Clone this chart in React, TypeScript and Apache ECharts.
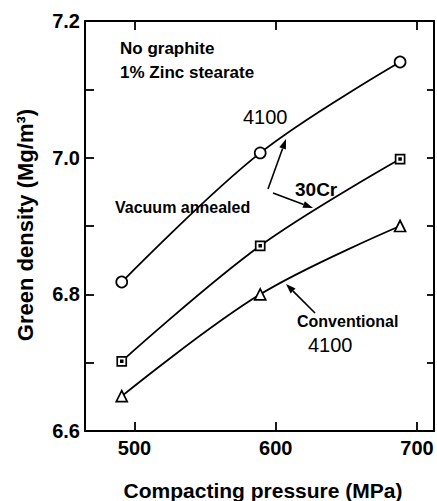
import React, { useEffect, useRef } from "react";
import * as echarts from "echarts";

const pressure = [491, 589, 688];
const vacuum4100 = [6.818, 7.007, 7.14];
const vacuum30Cr = [6.702, 6.871, 6.998];
const conventional4100 = [6.651, 6.8, 6.9];
const xTickValues = [500, 600, 700];
const yMin = 6.6;
const yMax = 7.2;
const xTitle = "Compacting pressure (MPa)";
const yTitle = "Green density (Mg/m³)";

const FONT = "'Liberation Sans', Arial, sans-serif";

function arrow(x1: number, y1: number, x2: number, y2: number) {
  const ang = Math.atan2(y2 - y1, x2 - x1);
  const L = 10;
  const W = 3.5;
  const bx = x2 - L * Math.cos(ang);
  const by = y2 - L * Math.sin(ang);
  const px = -Math.sin(ang) * W;
  const py = Math.cos(ang) * W;
  return [
    {
      type: "line",
      shape: { x1, y1, x2: bx, y2: by },
      style: { stroke: "#000", lineWidth: 1.6 },
    },
    {
      type: "polygon",
      shape: {
        points: [
          [x2, y2],
          [bx + px, by + py],
          [bx - px, by - py],
        ],
      },
      style: { fill: "#000" },
    },
  ];
}

function label(text: string, x: number, y: number, size: number, weight = "bold") {
  return {
    type: "text",
    x,
    y,
    style: {
      text,
      fill: "#000",
      font: `${weight} ${size}px ${FONT}`,
      textAlign: "left",
      textVerticalAlign: "middle",
    },
  };
}

export default function App() {
  const ref = useRef<HTMLDivElement>(null);
  useEffect(() => {
    document.body.style.margin = "0";
    const chart = echarts.init(ref.current!, null, { renderer: "svg" });
    const seriesBase = {
      type: "line",
      smooth: 0.35,
      symbolSize: 11,
      lineStyle: { color: "#000", width: 1.8 },
      itemStyle: { color: "#fff", borderColor: "#000", borderWidth: 1.7 },
      z: 3,
    };
    const ySide = (pos: string, labels: boolean) => ({
      type: "value",
      position: pos,
      min: yMin,
      max: yMax,
      interval: 0.1,
      axisLine: { show: true, lineStyle: { color: "#000", width: 2 } },
      axisTick: { show: true, inside: true, length: pos === "left" ? 9 : 7, lineStyle: { color: "#000", width: 1.8 } },
      splitLine: { show: false },
      axisLabel: labels
        ? {
            show: true,
            color: "#000",
            fontFamily: FONT,
            fontWeight: "bold",
            fontSize: 20,
            margin: 5,
            formatter: (v: number) => (Math.round(v * 10) % 2 === 0 ? v.toFixed(1) : ""),
          }
        : { show: false },
    });
    const xSide = (pos: string, labels: boolean) => ({
      type: "value",
      position: pos,
      min: 465,
      max: 712,
      axisLine: { show: true, lineStyle: { color: "#000", width: 2 } },
      axisTick: { show: true, inside: true, length: 9, customValues: xTickValues, lineStyle: { color: "#000", width: 1.8 } },
      splitLine: { show: false },
      axisLabel: labels
        ? {
            show: true,
            color: "#000",
            fontFamily: FONT,
            fontWeight: "bold",
            fontSize: 20,
            margin: 7,
            customValues: xTickValues,
          }
        : { show: false },
    });
    chart.setOption({
      animation: false,
      backgroundColor: "#fff",
      grid: { left: 85, right: 3, top: 21, bottom: 70, containLabel: false },
      xAxis: [xSide("bottom", true), xSide("top", false)],
      yAxis: [ySide("left", true), ySide("right", false)],
      series: [
        { ...seriesBase, name: "Vacuum annealed 4100", symbol: "circle", data: pressure.map((p, i) => [p, vacuum4100[i]]) },
        {
          ...seriesBase,
          name: "Vacuum annealed 30Cr",
          symbol: "path://M0,0H10V10H0Z M4,4H6V6H4Z",
          symbolSize: 9,
          data: pressure.map((p, i) => [p, vacuum30Cr[i]]),
        },
        { ...seriesBase, name: "Conventional 4100", symbol: "triangle", data: pressure.map((p, i) => [p, conventional4100[i]]) },
      ],
      graphic: [
        {
          type: "text",
          x: 25,
          y: 225,
          rotation: Math.PI / 2,
          style: {
            text: yTitle,
            fill: "#000",
            font: `bold 22px ${FONT}`,
            textAlign: "center",
            textVerticalAlign: "middle",
          },
        },
        {
          type: "text",
          x: 263,
          y: 490,
          style: {
            text: xTitle,
            fill: "#000",
            font: `bold 21px ${FONT}`,
            textAlign: "center",
            textVerticalAlign: "middle",
          },
        },
        label("No graphite", 120, 48, 17),
        label("1% Zinc stearate", 120, 72, 17),
        label("4100", 243, 117, 20, "normal"),
        label("30Cr", 295, 189, 19),
        label("Vacuum annealed", 115, 207, 16),
        label("Conventional", 297, 321, 16),
        label("4100", 308, 345, 20, "normal"),
        ...arrow(268, 189, 286, 139),
        ...arrow(273, 193, 313, 208),
        ...arrow(315, 313, 286, 284),
      ],
    });
    return () => chart.dispose();
  }, []);
  return <div ref={ref} style={{ width: 437, height: 501 }} />;
}
